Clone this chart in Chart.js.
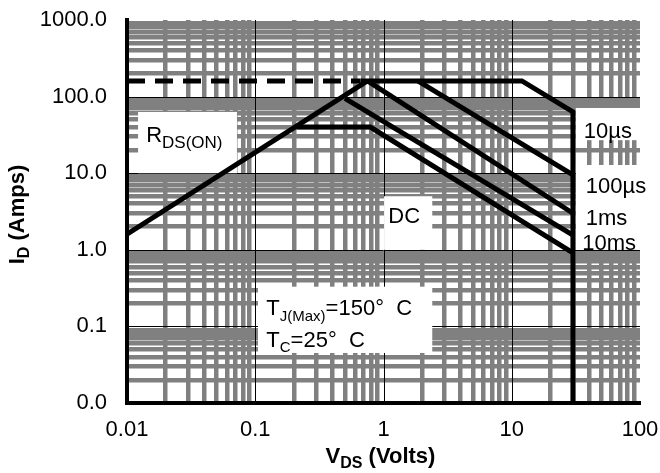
<!DOCTYPE html>
<html>
<head>
<meta charset="utf-8">
<script src="https://cdn.jsdelivr.net/npm/chart.js@4.4.1/dist/chart.umd.min.js"></script>
<style>
  html, body { margin: 0; padding: 0; background: #fff; }
  canvas { display: block; }
</style>
</head>
<body>
<canvas id="soaChart" width="660" height="473"></canvas>
<script>
// --- Axis ticks ---
const xDecades = [0.01, 0.1, 1, 10, 100];
const xTickLabels = ['0.01', '0.1', '1', '10', '100'];
const yDecades = [0.01, 0.1, 1, 10, 100, 1000];
const yTickLabels = ['0.0', '0.1', '1.0', '10.0', '100.0', '1000.0'];

// --- SOA boundaries (V_DS in volts, I_D in amps) ---
const rdsVds = [0.01, 0.75];
const rdsId = [1.6, 160];
const idmVds = [0.01, 0.66];
const idmId = [160, 160];
const us10Vds = [0.66, 12, 30, 30];
const us10Id = [160, 160, 63, 0.01];
const us100Vds = [1.85, 30];
const us100Id = [160, 9.5];
const ms1Vds = [0.75, 30];
const ms1Id = [160, 3.0];
const ms10Vds = [0.5, 30];
const ms10Id = [95, 1.55];
const dcVds = [0.21, 0.79, 30];
const dcId = [40, 40, 0.91];

const GRID_GRAY = '#808080';
const FONT = '"Liberation Sans", Arial, sans-serif';

// decade lines plus 2..9 in every decade
function logTicks(decades) {
    const out = [];
    decades.forEach((d, i) => {
        out.push(d);
        if (i < decades.length - 1) {
            for (let m = 2; m <= 9; m++) out.push(+(d * m).toPrecision(3));
        }
    });
    return out;
}

const pts = (xs, ys) => xs.map((v, i) => ({ x: v, y: ys[i] }));

// --- Text boxes drawn on the plot (box and text anchor in data units) ---
const notes = [
    { box: [0.0122, 0.072, 10, 63], lines: [
        { at: [0.0141, 25.5], runs: [['R', 22], ['DS(ON)', 17, 6]] }] },
    { box: [1.01, 2.4, 1.0, 5.0], lines: [
        { at: [1.09, 2.24], runs: [['DC', 22]] }] },
    { box: [0.105, 2.4, 0.045, 0.33], lines: [
        { at: [0.122, 0.141], runs: [['T', 22], ['J(Max)', 15, 6], ['=150°  C', 22]] },
        { at: [0.122, 0.054], runs: [['T', 22], ['C', 15, 5], ['=25°  C', 22]] }] },
    { box: [31.6, 126, 27, 71], lines: [
        { at: [36.5, 28.8], runs: [['10µs', 22]] }] },
    { box: [31.6, 126, 1.0, 12.8], lines: [
        { at: [37.8, 5.5], runs: [['100µs', 22]] },
        { at: [37.8, 2.1], runs: [['1ms', 22]] },
        { at: [35.5, 1.0], runs: [['10ms', 22]] }] }
];

function drawRuns(ctx, runs, x, y, align, bold) {
    const fontOf = size => `${bold ? 'bold ' : ''}${size}px ${FONT}`;
    let width = 0;
    runs.forEach(([text, size]) => { ctx.font = fontOf(size); width += ctx.measureText(text).width; });
    let cx = align === 'center' ? x - width / 2 : x;
    runs.forEach(([text, size, dy = 0]) => {
        ctx.font = fontOf(size);
        ctx.fillText(text, cx, y + dy);
        cx += ctx.measureText(text).width;
    });
}

const soaOverlay = {
    id: 'soaOverlay',
    beforeDatasetsDraw(chart) {
        const { ctx, chartArea: a, scales: { x, y } } = chart;
        ctx.save();

        // thin black decade lines over the grey grid
        ctx.strokeStyle = '#000';
        ctx.lineWidth = 1;
        ctx.beginPath();
        xDecades.slice(1, -1).forEach(v => {
            const px = Math.round(x.getPixelForValue(v)) + 0.5;
            ctx.moveTo(px, a.top);
            ctx.lineTo(px, a.bottom);
        });
        yDecades.slice(1, -1).forEach(v => {
            const py = Math.round(y.getPixelForValue(v)) + 0.5;
            ctx.moveTo(a.left, py);
            ctx.lineTo(a.right, py);
        });
        ctx.stroke();

        // white label boxes and their text
        ctx.textAlign = 'left';
        ctx.textBaseline = 'alphabetic';
        notes.forEach(n => {
            const x1 = x.getPixelForValue(n.box[0]);
            const x2 = x.getPixelForValue(n.box[1]);
            const y1 = y.getPixelForValue(n.box[3]);
            const y2 = y.getPixelForValue(n.box[2]);
            ctx.fillStyle = '#fff';
            ctx.fillRect(x1, y1, x2 - x1, y2 - y1);
            ctx.fillStyle = '#000';
            n.lines.forEach(l => {
                drawRuns(ctx, l.runs, x.getPixelForValue(l.at[0]), y.getPixelForValue(l.at[1]), 'left', false);
            });
        });

        // axis titles with subscripts
        ctx.fillStyle = '#000';
        drawRuns(ctx, [['V', 22], ['DS', 16, 5], [' (Volts)', 22]], (a.left + a.right) / 2 - 3, a.bottom + 60, 'center', true);
        ctx.translate(24, (a.top + a.bottom) / 2 + 3);
        ctx.rotate(-Math.PI / 2);
        drawRuns(ctx, [['I', 22], ['D', 16, 5], [' (Amps)', 22]], 0, 0, 'center', true);

        ctx.restore();
    }
};

const lineStyle = {
    showLine: true,
    borderColor: '#000',
    backgroundColor: '#000',
    borderWidth: 5,
    pointRadius: 0,
    tension: 0,
    fill: false
};

// keep the plot box fixed: the outer layout padding alone sets its edges
const noEdgePadding = s => {
    s.paddingLeft = 0;
    s.paddingRight = 0;
    s.paddingTop = 0;
    s.paddingBottom = 0;
};

const ctx = document.getElementById('soaChart').getContext('2d');
const soaChart = new Chart(ctx, {
    type: 'scatter',
    data: {
        datasets: [
            { label: 'RDS(ON)', data: pts(rdsVds, rdsId), ...lineStyle },
            { label: 'IDM', data: pts(idmVds, idmId), ...lineStyle, borderDash: [18, 10] },
            { label: '10us', data: pts(us10Vds, us10Id), ...lineStyle },
            { label: '100us', data: pts(us100Vds, us100Id), ...lineStyle },
            { label: '1ms', data: pts(ms1Vds, ms1Id), ...lineStyle },
            { label: '10ms', data: pts(ms10Vds, ms10Id), ...lineStyle },
            { label: 'DC', data: pts(dcVds, dcId), ...lineStyle }
        ]
    },
    options: {
        responsive: false,
        animation: false,
        layout: { padding: { left: 0, right: 20, top: 20, bottom: 0 } },
        plugins: { legend: { display: false }, tooltip: { enabled: false } },
        scales: {
            x: {
                type: 'logarithmic',
                min: 0.01,
                max: 100,
                afterBuildTicks: s => { s.ticks = logTicks(xDecades).map(v => ({ value: v })); },
                afterFit: s => { s.height = 70; noEdgePadding(s); },
                grid: {
                    drawTicks: false,
                    color: c => xDecades.includes(c.tick.value) ? 'rgba(0,0,0,0)' : GRID_GRAY,
                    lineWidth: c => xDecades.includes(c.tick.value) ? 1 : 4.5
                },
                border: { display: true, color: '#000', width: 4 },
                ticks: {
                    autoSkip: false,
                    maxRotation: 0,
                    minRotation: 0,
                    padding: 14,
                    color: '#000',
                    font: { family: FONT, size: 22 },
                    callback: v => { const i = xDecades.indexOf(v); return i >= 0 ? xTickLabels[i] : ''; }
                }
            },
            y: {
                type: 'logarithmic',
                min: 0.01,
                max: 1000,
                afterBuildTicks: s => { s.ticks = logTicks(yDecades).map(v => ({ value: v })); },
                afterFit: s => { s.width = 127; noEdgePadding(s); },
                grid: {
                    drawTicks: false,
                    color: c => yDecades.includes(c.tick.value) ? 'rgba(0,0,0,0)' : GRID_GRAY,
                    lineWidth: c => yDecades.includes(c.tick.value) ? 1 : 4.5
                },
                border: { display: true, color: '#000', width: 4 },
                ticks: {
                    autoSkip: false,
                    padding: 20,
                    color: '#000',
                    font: { family: FONT, size: 22 },
                    callback: v => { const i = yDecades.indexOf(v); return i >= 0 ? yTickLabels[i] : ''; }
                }
            }
        }
    },
    plugins: [soaOverlay]
});
</script>
</body>
</html>
